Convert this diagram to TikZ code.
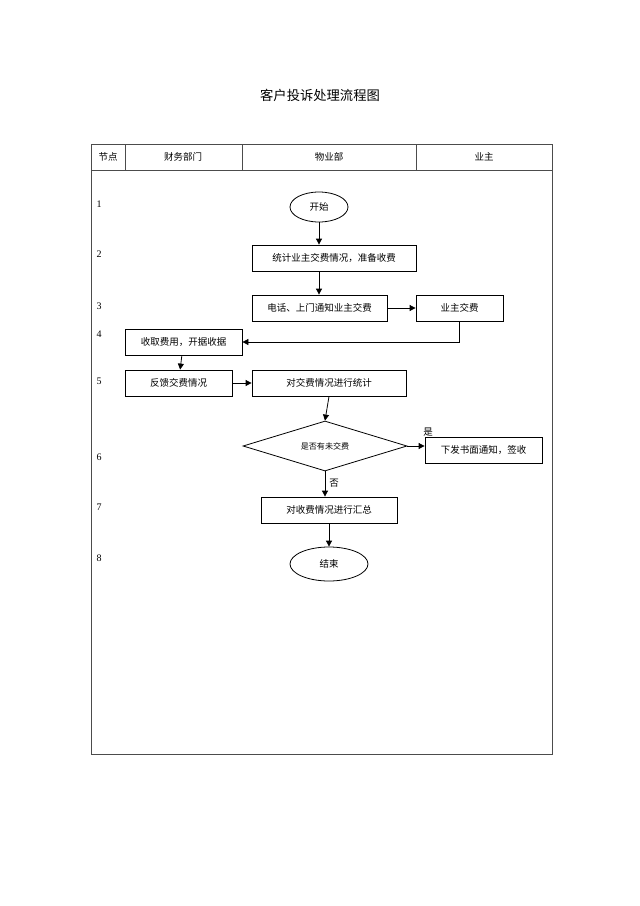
\documentclass[tikz,border=0pt]{standalone}
\usepackage{fontspec}
\setmainfont{Liberation Serif}
\newfontfamily\cjk{Noto Sans CJK SC}[Scale=0.95]
\usetikzlibrary{shapes.geometric,arrows.meta}
\begin{document}
\begin{tikzpicture}[x=1pt,y=-1pt,
 box/.style={draw,thick,minimum height=26pt,inner sep=0pt,font=\cjk\fontsize{10}{12}\selectfont},
 arr/.style={thick,-{Triangle[length=6pt,width=6pt]}},
 num/.style={font=\fontsize{10}{12}\selectfont},
 lab/.style={font=\cjk\fontsize{10}{12}\selectfont}]
\useasboundingbox (0,0) rectangle (640,906);
\node[font=\cjk\fontsize{14}{16}\selectfont] (title) at (320,95) {客户投诉处理流程图};
\draw[thick,gray!60!black] (91,144) rectangle (552,754);
\draw[gray!60!black] (91,170) -- (552,170) (125,144) -- (125,170) (242,144) -- (242,170) (416,144) -- (416,170);
\node[lab] (h0) at (108,157) {节点};
\node[lab] (h1) at (183,157) {财务部门};
\node[lab] (h2) at (329,157) {物业部};
\node[lab] (h3) at (484,157) {业主};
\foreach \n/\y in {1/204,2/254,3/306,4/334,5/381,6/457,7/507,8/558}
  \node[num] (r\n) at (99,\y) {\n};
\node[draw,thick,ellipse,minimum width=58pt,minimum height=30pt,lab] (start) at (319,207) {开始};
\node[box,minimum width=164pt] (b2) at (334,258) {统计业主交费情况，准备收费};
\node[box,minimum width=135pt] (b3) at (319.5,308) {电话、上门通知业主交费};
\node[box,minimum width=87pt] (b3b) at (459.5,308) {业主交费};
\node[box,minimum width=117pt] (b4) at (183.5,342) {收取费用，开据收据};
\node[box,minimum width=107pt] (b5a) at (178.5,383) {反馈交费情况};
\node[box,minimum width=154pt] (b5b) at (329,383) {对交费情况进行统计};
\node[draw,thick,diamond,aspect=3.3,minimum width=164pt,minimum height=50pt,inner sep=0pt,font=\cjk\fontsize{8.5}{10}\selectfont] (d) at (325,446) {是否有未交费};
\node[box,minimum width=117pt] (b6) at (483.5,450) {下发书面通知，签收};
\node[box,minimum width=136pt] (b7) at (329,510) {对收费情况进行汇总};
\node[draw,thick,ellipse,minimum width=78pt,minimum height=34pt,lab] (end) at (329,564) {结束};
\draw[arr] (start) -- (start|-b2.north);
\draw[arr] (b2.south-|start) -- (start|-b3.north);
\draw[arr] (b3) -- (b3b);
\draw[arr] (b3b.south) |- (b4.east);
\draw[arr] (b4) -- (b5a);
\draw[arr] (b5a) -- (b5b);
\draw[arr] (b5b.south) -- (d.north);
\draw[arr] (d.east) -- (b6.west|-d.east);
\node[lab] (yes) at (428,432) {是};
\draw[arr] (d.south) -- (d.south|-b7.north);
\node[lab] (no) at (334,483) {否};
\draw[arr] (b7) -- (end);
\end{tikzpicture}
\end{document}
